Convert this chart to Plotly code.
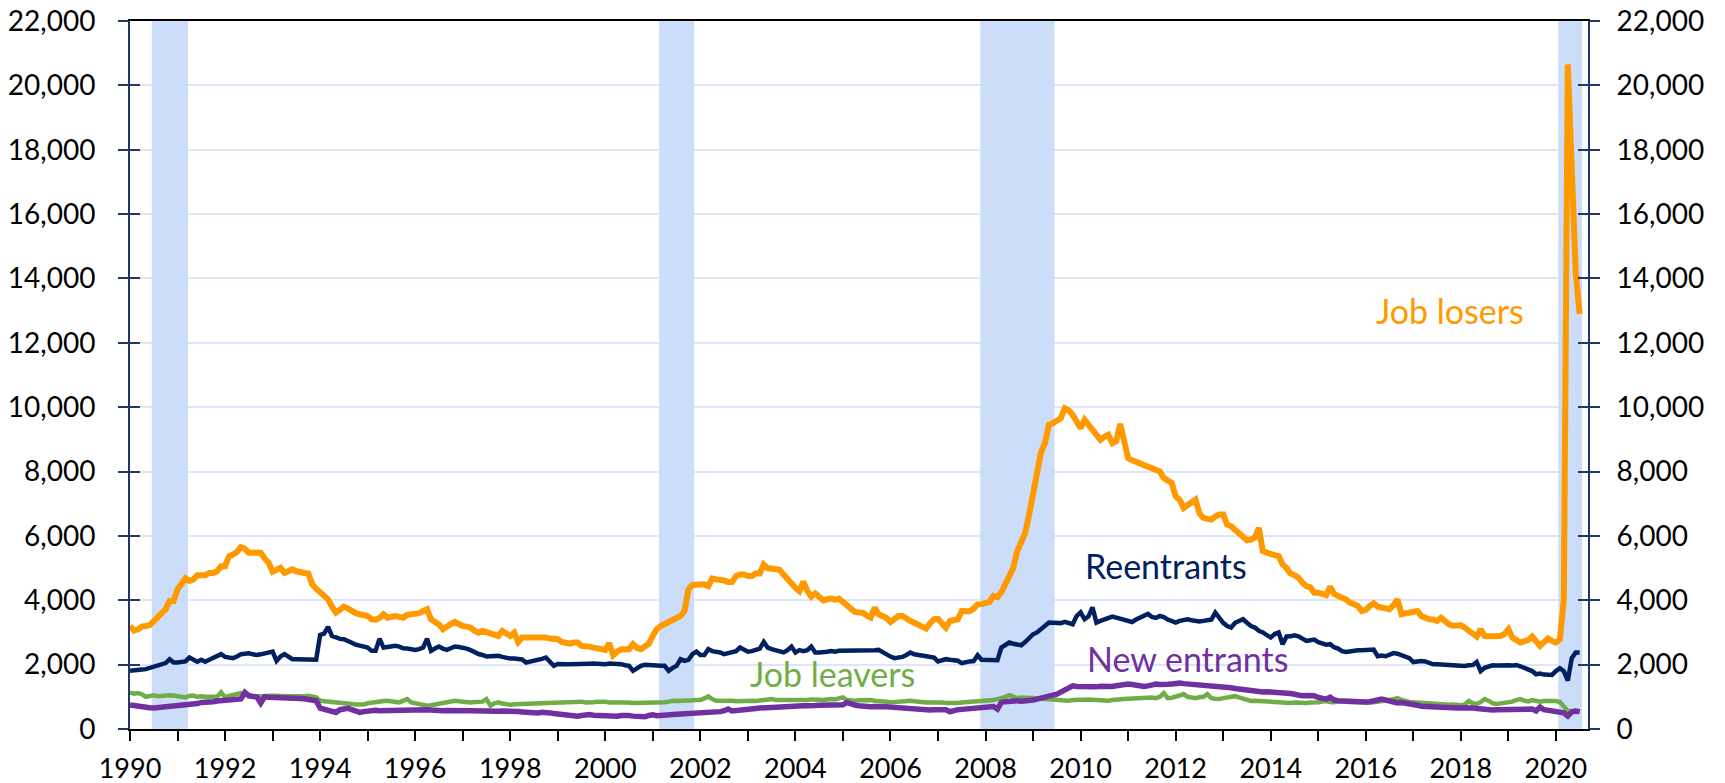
import plotly.graph_objects as go

# Monthly, Jan 1990 .. Jul 2020 (thousands)
start_year = 1990
n_months = 367

job_losers = [
    3200, 3060, 3100, 3180, 3200, 3230, 3350, 3460, 3600, 3720, 3980, 3980,
    4340, 4500, 4680, 4600, 4650, 4780, 4780, 4780, 4850, 4850, 4900, 5060,
    5060, 5370, 5420, 5500, 5650, 5600, 5475, 5475, 5475, 5475, 5300, 5165,
    4890, 4950, 5010, 4855, 4900, 4960, 4900, 4855, 4850, 4834, 4494, 4360,
    4250, 4150, 4030, 3800, 3615, 3700, 3800, 3750, 3650, 3600, 3564, 3540,
    3512, 3410, 3400, 3450, 3564, 3460, 3500, 3512, 3480, 3460, 3550, 3564,
    3560, 3600, 3667, 3720, 3410, 3337, 3250, 3100, 3200, 3260, 3326, 3250,
    3200, 3180, 3150, 3050, 2995, 3047, 3000, 2944, 2944, 2892, 3047, 2950,
    2892, 2995, 2706, 2840, 2840, 2840, 2850, 2860, 2871, 2840, 2810, 2790,
    2789, 2706, 2680, 2655, 2686, 2686, 2583, 2583, 2560, 2530, 2500, 2458,
    2458, 2665, 2293, 2400, 2479, 2479, 2479, 2634, 2520, 2479, 2583, 2650,
    2900, 3100, 3200, 3254, 3326, 3410, 3460, 3512, 3667, 4340, 4473, 4494,
    4494, 4494, 4442, 4680, 4650, 4650, 4617, 4566, 4566, 4752, 4803, 4803,
    4752, 4752, 4834, 4834, 5113, 5000, 4990, 4990, 4950, 4800, 4650, 4500,
    4390, 4287, 4576, 4287, 4111, 4215, 4100, 3998, 4030, 4050, 4020, 4050,
    3950, 3853, 3750, 3636, 3620, 3615, 3520, 3460, 3770, 3564, 3512, 3450,
    3326, 3400, 3512, 3512, 3420, 3357, 3300, 3254, 3190, 3120, 3285, 3410,
    3420, 3300, 3150, 3357, 3400, 3410, 3667, 3650, 3660, 3740, 3874, 3880,
    3905, 3950, 4132, 4100, 4250, 4545, 4750, 5010, 5527, 5800, 6095, 6663,
    7334, 8161, 8600, 8884, 9452, 9504, 9580, 9658, 9968, 9900, 9762, 9550,
    9349, 9607, 9452, 9300, 9150, 8987, 9080, 9142, 8884, 8950, 9483, 8884,
    8419, 8350, 8300, 8264, 8200, 8150, 8109, 8050, 8006, 7800, 7700, 7644,
    7231, 7128, 6870, 6950, 7024, 7128, 6700, 6560, 6530, 6508, 6600, 6663,
    6663, 6353, 6301, 6198, 6095, 5950, 5867, 5888, 5950, 6250, 5527, 5480,
    5423, 5400, 5370, 5113, 5000, 4834, 4783, 4700, 4545, 4442, 4400, 4235,
    4235, 4200, 4163, 4421, 4200, 4132, 4080, 4029, 3925, 3880, 3822, 3667,
    3700, 3822, 3905, 3801, 3760, 3719, 3720, 3850, 4029, 3564, 3600, 3636,
    3650, 3667, 3512, 3450, 3410, 3400, 3357, 3460, 3350, 3254, 3210, 3202,
    3223, 3150, 3047, 2950, 2872, 3100, 2892, 2880, 2872, 2880, 2892, 2950,
    3100, 2841, 2760, 2686, 2720, 2768, 2872, 2700, 2583, 2700, 2810, 2737,
    2686, 2789, 4029, 20650, 17400, 14200, 12900,
]

reentrants = [
    1808, 1830, 1840, 1850, 1860, 1900, 1963, 1990, 2015, 2050, 2170, 2066,
    2066, 2080, 2100, 2220, 2150, 2090, 2150, 2090, 2150, 2220, 2250, 2325,
    2240, 2220, 2200, 2250, 2325, 2340, 2355, 2320, 2300, 2320, 2340, 2360,
    2407, 2118, 2250, 2325, 2250, 2170, 2170, 2170, 2170, 2170, 2160, 2150,
    2923, 2965, 3170, 2892, 2850, 2800, 2790, 2720, 2680, 2620, 2583, 2560,
    2530, 2428, 2428, 2810, 2530, 2550, 2583, 2583, 2560, 2510, 2500, 2480,
    2458, 2480, 2530, 2810, 2428, 2500, 2562, 2500, 2458, 2510, 2562, 2550,
    2530, 2500, 2450, 2376, 2330, 2300, 2252, 2260, 2270, 2272, 2240, 2210,
    2190, 2190, 2190, 2160, 2066, 2090, 2100, 2150, 2180, 2220, 2097, 1963,
    2020, 2000, 2010, 2015, 2015, 2000, 2015, 2020, 2030, 2035, 2020, 2000,
    2010, 2035, 2035, 2030, 2015, 1980, 1963, 1808, 1900, 1960, 1994, 1980,
    1990, 1970, 1963, 1963, 1808, 1900, 1963, 2170, 2118, 2150, 2325, 2407,
    2300, 2300, 2480, 2420, 2400, 2380, 2325, 2350, 2380, 2420, 2530, 2450,
    2400, 2420, 2450, 2500, 2706, 2530, 2480, 2450, 2420, 2380, 2450, 2562,
    2380, 2450, 2420, 2450, 2562, 2380, 2380, 2380, 2400, 2420, 2400, 2430,
    2430, 2450, 2440, 2420, 2430, 2440, 2420, 2430, 2450, 2458, 2380, 2300,
    2250, 2200, 2220, 2240, 2300, 2376, 2320, 2300, 2290, 2280, 2250, 2220,
    2097, 2130, 2170, 2150, 2150, 2120, 2045, 2080, 2100, 2110, 2293, 2150,
    2150, 2140, 2138, 2138, 2530, 2600, 2686, 2650, 2620, 2603, 2700, 2841,
    2944, 3000, 3100, 3200, 3306, 3300, 3285, 3290, 3326, 3300, 3254, 3512,
    3627, 3410, 3500, 3782, 3306, 3357, 3410, 3430, 3493, 3460, 3420, 3378,
    3350, 3326, 3400, 3450, 3512, 3575, 3480, 3450, 3512, 3480, 3400, 3350,
    3306, 3360, 3380, 3410, 3380, 3350, 3340, 3360, 3380, 3400, 3617, 3450,
    3300, 3200, 3152, 3300, 3350, 3410, 3300, 3200, 3152, 3050, 3000, 2900,
    2842, 2950, 3000, 2635, 2873, 2880, 2914, 2880, 2820, 2738, 2760, 2780,
    2700, 2650, 2620, 2635, 2540, 2500, 2420, 2397, 2420, 2440, 2450, 2450,
    2450, 2450, 2470, 2260, 2280, 2260, 2300, 2360, 2340, 2300, 2250, 2200,
    2080, 2100, 2110, 2100, 2050, 2010, 2010, 2000, 1990, 1980, 1990, 1980,
    1980, 1960, 1980, 1990, 2080, 1800, 1900, 1950, 1980, 1970, 1980, 1990,
    1980, 1970, 1990, 1950, 1900, 1860, 1800, 1700, 1720, 1690, 1670, 1680,
    1800, 1890, 1800, 1500, 2200, 2380, 2380,
]

job_leavers = [
    1136, 1100, 1120, 1080, 1000, 1030, 1050, 1020, 1040, 1030, 1050, 1040,
    1030, 1000, 981, 1030, 1040, 1000, 1020, 1000, 1010, 1020, 1000, 1140,
    981, 1030, 1050, 1080, 1116, 1100, 1050, 1030, 1000, 1020, 1030, 1033,
    1030, 1020, 1010, 1030, 1020, 1020, 1010, 1000, 1020, 1030, 1000, 980,
    878, 870, 850, 826, 830, 826, 810, 800, 780, 760, 744, 760,
    800, 826, 850, 878, 870, 878, 860, 840, 826, 880, 930, 826,
    800, 760, 754, 723, 740, 760, 780, 800, 826, 850, 878, 860,
    840, 826, 826, 840, 830, 850, 930, 723, 800, 826, 790, 760,
    750, 770, 775, 775, 780, 775, 800, 800, 820, 810, 800, 826,
    826, 830, 826, 840, 826, 830, 850, 826, 820, 830, 850, 860,
    850, 826, 830, 826, 840, 840, 820, 806, 806, 826, 840, 826,
    806, 810, 806, 830, 850, 878, 870, 870, 860, 880, 890, 900,
    900, 950, 1012, 930, 878, 880, 890, 890, 880, 860, 870, 880,
    878, 880, 870, 890, 900, 920, 930, 900, 900, 890, 880, 878,
    880, 890, 900, 900, 920, 930, 910, 900, 920, 930, 920, 940,
    981, 900, 880, 878, 890, 900, 920, 900, 880, 878, 860, 850,
    826, 840, 850, 840, 860, 878, 860, 840, 826, 820, 826, 830,
    820, 826, 806, 800, 810, 806, 820, 826, 830, 840, 850, 850,
    870, 880, 900, 930, 950, 1000, 1054, 1000, 960, 981, 981, 960,
    981, 960, 950, 930, 920, 900, 900, 890, 878, 880, 900, 910,
    920, 930, 920, 910, 900, 890, 878, 880, 900, 920, 930, 930,
    940, 950, 960, 950, 960, 970, 980, 960, 1000, 1116, 960, 970,
    990, 1040, 1085, 1000, 980, 960, 990, 1000, 1085, 960, 940, 930,
    960, 980, 1000, 1020, 980, 950, 900, 870, 880, 870, 850, 840,
    840, 850, 840, 830, 820, 810, 820, 810, 800, 810, 820, 810,
    830, 850, 870, 840, 830, 860, 870, 850, 840, 830, 820, 810,
    810, 820, 830, 840, 860, 880, 900, 930, 960, 900, 860, 840,
    830, 820, 800, 790, 800, 780, 770, 780, 760, 750, 760, 740,
    740, 760, 870, 800, 780, 840, 930, 880, 800, 780, 790, 800,
    820, 850, 900, 930, 880, 860, 900, 880, 850, 870, 880, 870,
    870, 840, 680, 560, 560, 570, 540,
]

new_entrants = [
    744, 720, 702, 690, 680, 660, 650, 660, 680, 690, 700, 723,
    723, 730, 740, 754, 770, 790, 826, 826, 830, 850, 870, 878,
    890, 910, 930, 930, 935, 1136, 1030, 1010, 1000, 806, 1000, 990,
    990, 980, 975, 970, 970, 960, 950, 950, 940, 930, 910, 878,
    650, 620, 600, 560, 516, 600, 620, 640, 600, 560, 516, 540,
    560, 570, 580, 570, 575, 580, 585, 570, 575, 560, 570, 580,
    575, 580, 590, 600, 590, 575, 580, 570, 575, 580, 590, 580,
    575, 570, 568, 560, 575, 570, 560, 565, 560, 550, 560, 545,
    550, 545, 540, 530, 516, 520, 510, 500, 520, 530, 500, 480,
    465, 450, 440, 420, 392, 400, 420, 440, 450, 430, 420, 410,
    400, 390, 382, 400, 420, 430, 420, 400, 380, 362, 380, 420,
    440, 413, 430, 440, 450, 460, 460, 465, 470, 480, 490, 500,
    500, 510, 510, 520, 530, 540, 568, 620, 560, 580, 600, 610,
    640, 620, 640, 650, 660, 660, 670, 670, 690, 700, 680, 690,
    700, 710, 723, 720, 710, 730, 740, 740, 750, 750, 740, 730,
    750, 826, 760, 740, 720, 700, 680, 690, 700, 710, 700, 690,
    680, 670, 650, 640, 620, 610, 600, 580, 568, 580, 590, 600,
    610, 620, 600, 537, 580, 600, 610, 620, 640, 660, 680, 700,
    710, 720, 700, 620, 826, 850, 870, 880, 880, 860, 860, 880,
    900, 930, 950, 980, 1000, 1050, 1085, 1150, 1240, 1300, 1343, 1320,
    1310, 1300, 1290, 1300, 1310, 1330, 1320, 1300, 1320, 1343, 1360, 1395,
    1395, 1380, 1350, 1330, 1320, 1340, 1370, 1395, 1380, 1370, 1390, 1400,
    1420, 1425, 1410, 1400, 1390, 1380, 1380, 1390, 1360, 1350, 1340, 1330,
    1320, 1300, 1280, 1260, 1240, 1230, 1220, 1200, 1180, 1160, 1150, 1160,
    1150, 1160, 1170, 1150, 1120, 1100, 1080, 1050, 1030, 1040, 1050, 1030,
    980, 960, 930, 990, 900, 880, 870, 880, 870, 860, 850, 840,
    840, 850, 880, 900, 930, 900, 860, 840, 810, 820, 810, 780,
    760, 740, 710, 700, 690, 680, 690, 670, 660, 660, 650, 650,
    660, 670, 680, 650, 640, 620, 610, 600, 590, 600, 600, 610,
    620, 610, 620, 600, 610, 620, 620, 560, 680, 600, 580, 560,
    560, 530, 500, 400, 530, 560, 530,
]

# Recession periods (decimal years)
rec_start = [1990.46, 2001.13, 2007.89, 2020.05]
rec_end = [1991.22, 2001.87, 2009.45, 2020.55]

tick_years = list(range(1990, 2021))
tick_text = [str(y) if y % 2 == 0 else "" for y in tick_years]
y_ticks = list(range(0, 22001, 2000))

x = [start_year + i / 12 for i in range(n_months)]

FONT = "Lato, 'Liberation Sans', Arial, sans-serif"
C_LOSERS = "#FF9900"
C_REENT = "#002060"
C_LEAVERS = "#70AD47"
C_NEW = "#7030A0"

fig = go.Figure()
fig.add_trace(go.Scatter(x=x, y=job_losers, mode="lines", name="Job losers",
                         line=dict(color=C_LOSERS, width=6)))
fig.add_trace(go.Scatter(x=x, y=job_leavers, mode="lines", name="Job leavers",
                         line=dict(color=C_LEAVERS, width=4.5)))
fig.add_trace(go.Scatter(x=x, y=reentrants, mode="lines", name="Reentrants",
                         line=dict(color=C_REENT, width=4.5)))
fig.add_trace(go.Scatter(x=x, y=new_entrants, mode="lines", name="New entrants",
                         line=dict(color=C_NEW, width=5.5)))

for s, e in zip(rec_start, rec_end):
    fig.add_shape(type="rect", xref="x", yref="y", x0=s, x1=e, y0=0, y1=22000,
                  fillcolor="#CCDDFA", line=dict(width=0), layer="between")

labels = [
    ("Job losers", 2017.77, 12990, C_LOSERS),
    ("Reentrants", 2011.80, 5084, C_REENT),
    ("New entrants", 2012.24, 2200, C_NEW),
    ("Job leavers", 2004.79, 1720, C_LEAVERS),
]
for txt, lx, ly, col in labels:
    fig.add_annotation(text=txt, x=lx, y=ly, xref="x", yref="y", showarrow=False,
                       xanchor="center", yanchor="middle",
                       font=dict(family=FONT, size=34, color=col))

axis_navy = "#1F3864"
fig.update_layout(
    width=1725, height=783,
    margin=dict(l=130, r=137, t=21, b=54, autoexpand=False),
    paper_bgcolor="white", plot_bgcolor="white",
    showlegend=False,
    font=dict(family=FONT, color="black"),
    xaxis=dict(
        range=[1990, 2020.675], tickmode="array", tickvals=tick_years, ticktext=tick_text,
        ticks="outside", ticklen=10, tickwidth=2, tickcolor="black",
        showline=True, linecolor="black", linewidth=2, mirror=True,
        showgrid=False, zeroline=False, automargin=False,
        tickfont=dict(family=FONT, size=27, color="black"),
        ticklabelstandoff=5,
    ),
    yaxis=dict(
        range=[0, 22000], tickmode="array", tickvals=y_ticks,
        ticktext=[f"{v:,}" for v in y_ticks],
        ticks="outside", ticklen=10, tickwidth=2, tickcolor=axis_navy,
        showline=True, linecolor=axis_navy, linewidth=2,
        showgrid=True, gridcolor="#DCE6F8", gridwidth=1.5, zeroline=False,
        automargin=False,
        tickfont=dict(family=FONT, size=28, color="black"),
        ticklabelstandoff=17,
    ),
    yaxis2=dict(
        range=[0, 22000], overlaying="y", side="right", tickmode="array", tickvals=y_ticks,
        ticktext=[f"{v:,}" for v in y_ticks],
        ticks="outside", ticklen=10, tickwidth=2, tickcolor=axis_navy,
        showline=True, linecolor=axis_navy, linewidth=2,
        showgrid=False, zeroline=False, automargin=False,
        tickfont=dict(family=FONT, size=28, color="black"),
        ticklabelstandoff=11,
    ),
    yaxis3=dict(
        range=[0, 22000], overlaying="y", side="left", tickmode="array", tickvals=y_ticks,
        ticks="inside", ticklen=10, tickwidth=2, tickcolor=axis_navy,
        showticklabels=False, showgrid=False, zeroline=False, showline=False,
        automargin=False,
    ),
    yaxis4=dict(
        range=[0, 22000], overlaying="y", side="right", tickmode="array", tickvals=y_ticks,
        ticks="inside", ticklen=10, tickwidth=2, tickcolor=axis_navy,
        showticklabels=False, showgrid=False, zeroline=False, showline=False,
        automargin=False,
    ),
)
# invisible traces so the overlay axes are drawn
for ax in ["y2", "y3", "y4"]:
    fig.add_trace(go.Scatter(x=[1990], y=[0], yaxis=ax, mode="markers",
                             marker=dict(opacity=0), hoverinfo="skip", showlegend=False))

fig.write_html(
    "out.html",
    config={"displayModeBar": False},
    post_script="document.body.style.margin='0';document.body.style.overflow='hidden';",
)
